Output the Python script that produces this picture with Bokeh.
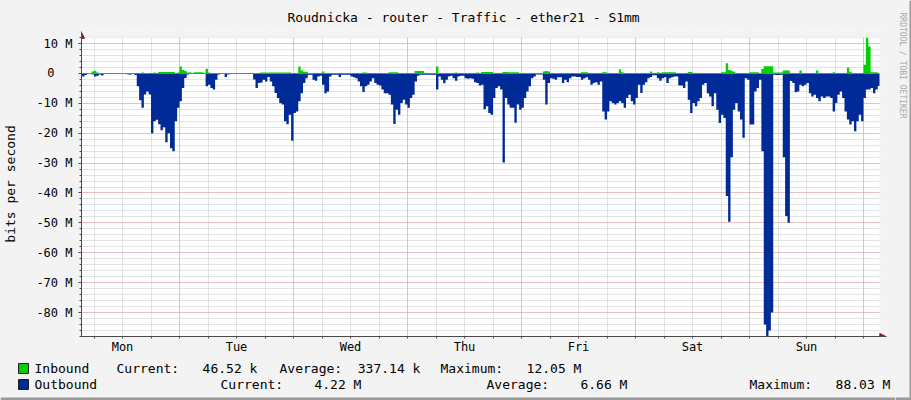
import numpy as np
from bokeh.plotting import figure
from bokeh.layouts import row, column
from bokeh.models import Range1d, FixedTicker, Grid, Title, Arrow, NormalHead, BoxAnnotation
from bokeh.core.properties import value
from bokeh.embed import file_html
from bokeh.resources import INLINE

FONT = "DejaVu Sans Mono"

# ---------------- data (30-minute samples, hours since Monday 00:00) ----------------
sample_start_h = 3.0
sample_step_h = 0.5

# outbound traffic, Mbit/s (drawn below zero)
outbound_M = [
    0.3, 1.0, 0.5, 0.2, 0.2, 0.3, 1.0, 0.8, 0.3, 0.7, 0.2, 0.2,
    0.2, 0.2, 0.2, 0.2, 0.2, 0.2, 0.2, 0.2, 0.3, 0.3, 0.2, 0.5,
    4.3, 9.0, 11.5, 7.0, 6.0, 7.0, 20.0, 16.0, 15.5, 17.0, 19.0, 18.0,
    23.0, 20.0, 25.0, 26.0, 16.0, 11.5, 9.3, 4.9, 1.5, 0.3, 0.2, 0.2,
    0.2, 0.2, 0.2, 0.2, 0.2, 4.3, 3.8, 4.9, 5.4, 2.1, 0.3, 0.2,
    0.2, 1.2, 0.3, 0.2, 0.2, 0.2, 0.2, 0.2, 0.2, 0.2, 0.2, 0.2,
    0.2, 2.0, 4.9, 3.2, 3.0, 2.1, 2.7, 1.2, 2.7, 4.3, 6.5, 8.2,
    9.9, 10.4, 16.0, 17.0, 13.8, 22.5, 13.2, 12.7, 9.3, 6.6, 3.2, 1.6,
    0.4, 0.4, 2.1, 2.4, 1.0, 0.8, 3.8, 6.6, 6.0, 1.0, 0.4, 0.4,
    0.4, 1.2, 0.4, 0.4, 0.4, 0.4, 1.0, 1.3, 1.6, 2.7, 4.3, 6.2,
    4.3, 3.8, 2.7, 1.6, 3.2, 3.8, 4.0, 5.4, 6.6, 6.6, 7.1, 10.4,
    16.9, 12.1, 13.8, 9.9, 8.8, 10.4, 11.5, 8.2, 7.1, 2.7, 0.8, 0.4,
    0.4, 0.4, 0.4, 0.4, 0.4, 0.4, 5.4, 1.0, 2.1, 3.3, 2.1, 1.0,
    0.8, 1.6, 2.4, 1.0, 0.8, 0.8, 1.6, 1.8, 1.6, 1.8, 2.9, 3.2,
    4.0, 3.8, 12.0, 11.0, 13.2, 13.8, 8.2, 4.9, 4.3, 5.4, 29.8, 8.2,
    10.4, 11.5, 11.5, 16.5, 10.4, 12.1, 11.5, 8.2, 6.0, 4.3, 1.6, 1.0,
    0.3, 0.3, 0.3, 2.1, 10.4, 3.2, 1.6, 1.8, 2.1, 1.3, 1.3, 3.2,
    2.1, 2.9, 1.6, 1.0, 1.0, 1.2, 1.2, 2.1, 1.6, 1.3, 2.1, 3.8,
    3.2, 2.9, 3.8, 2.7, 12.7, 15.4, 12.7, 9.3, 9.9, 10.4, 9.9, 9.3,
    9.9, 11.5, 8.2, 7.1, 9.3, 10.4, 8.2, 3.8, 6.5, 3.8, 2.9, 1.6,
    1.2, 0.6, 0.6, 1.6, 2.4, 1.6, 1.3, 3.2, 1.6, 1.3, 1.0, 1.0,
    4.0, 4.0, 4.9, 2.7, 8.8, 13.2, 9.9, 11.0, 9.3, 8.2, 3.8, 3.2,
    6.6, 7.7, 11.0, 6.6, 12.1, 16.6, 13.8, 14.9, 41.0, 49.6, 28.0, 12.1,
    9.9, 12.7, 15.4, 21.5, 1.6, 2.1, 17.1, 17.1, 6.0, 4.9, 2.1, 26.0,
    84.0, 88.03, 86.0, 80.0, 0.4, 0.5, 0.5, 0.4, 28.0, 47.7, 50.0, 2.5,
    3.2, 6.3, 6.0, 3.8, 4.3, 3.8, 3.2, 6.6, 7.7, 7.1, 8.2, 9.3,
    7.7, 8.2, 7.7, 7.7, 8.2, 12.7, 9.9, 7.1, 6.0, 8.2, 12.7, 15.4,
    17.1, 16.0, 19.3, 16.0, 13.8, 16.0, 8.2, 5.4, 5.4, 4.9, 6.6, 5.4,
    4.22,
]

# inbound traffic, Mbit/s (drawn above zero)
inbound_M = [
    0.1, 0.1, 0.1, 0.1, 0.2, 0.7, 0.9, 0.3, 0.1, 0.1, 0.1, 0.1,
    0.1, 0.1, 0.1, 0.1, 0.1, 0.1, 0.1, 0.1, 0.1, 0.1, 0.1, 0.1,
    0.1, 0.2, 0.3, 0.1, 0.1, 0.1, 0.2, 0.3, 0.2, 0.5, 0.5, 0.5,
    0.5, 0.5, 0.5, 0.5, 0.2, 0.3, 2.3, 1.2, 0.9, 0.3, 0.4, 0.1,
    0.4, 0.4, 0.4, 0.4, 0.1, 1.6, 0.3, 0.1, 0.1, 0.1, 0.1, 0.1,
    0.1, 0.1, 0.1, 0.1, 0.1, 0.1, 0.1, 0.1, 0.1, 0.1, 0.1, 0.1,
    0.1, 0.1, 0.1, 0.1, 0.3, 0.3, 0.3, 0.3, 0.3, 0.3, 0.3, 0.3,
    0.3, 0.3, 0.3, 0.3, 0.3, 0.1, 0.1, 0.1, 2.3, 1.0, 0.6, 0.6,
    0.1, 0.1, 0.1, 0.1, 0.1, 0.1, 0.7, 0.2, 0.1, 0.1, 0.1, 0.1,
    0.1, 0.1, 0.1, 0.1, 0.1, 0.1, 0.1, 0.1, 0.1, 0.1, 0.1, 0.3,
    0.3, 0.1, 0.1, 0.1, 0.1, 0.1, 0.1, 0.1, 0.1, 0.1, 0.4, 0.4,
    0.4, 0.4, 0.1, 0.1, 0.1, 0.1, 0.1, 0.1, 0.1, 0.8, 0.8, 0.8,
    0.8, 0.1, 0.1, 0.1, 0.1, 0.1, 2.3, 0.2, 0.1, 0.1, 0.1, 0.1,
    0.1, 0.1, 0.3, 0.1, 0.1, 0.1, 0.1, 0.1, 0.1, 0.1, 0.1, 0.3,
    0.1, 0.5, 0.5, 0.5, 0.5, 0.5, 0.1, 0.1, 0.1, 0.1, 0.5, 0.5,
    0.4, 0.4, 0.4, 0.4, 0.4, 0.1, 0.1, 0.1, 0.1, 0.1, 0.1, 0.1,
    0.1, 0.1, 0.1, 0.7, 0.8, 0.7, 0.1, 0.1, 0.1, 0.1, 0.1, 0.1,
    0.1, 0.1, 0.1, 0.1, 0.1, 0.1, 0.1, 0.4, 0.4, 0.4, 0.1, 0.1,
    0.1, 0.1, 0.1, 0.1, 0.4, 0.4, 0.1, 0.1, 0.1, 0.1, 0.1, 1.3,
    0.4, 0.1, 0.1, 0.1, 0.1, 0.1, 0.1, 0.1, 0.1, 0.1, 0.1, 0.1,
    0.7, 0.1, 0.1, 0.4, 0.1, 0.4, 0.4, 0.4, 0.4, 0.4, 0.4, 0.1,
    0.1, 0.1, 0.1, 0.1, 0.5, 0.5, 0.1, 0.1, 0.1, 0.1, 0.1, 0.1,
    0.1, 0.1, 0.1, 0.1, 0.1, 0.1, 0.4, 0.4, 3.4, 1.2, 0.9, 0.6,
    0.1, 0.1, 0.1, 0.1, 0.1, 0.1, 0.4, 0.4, 0.4, 0.4, 0.1, 1.5,
    2.4, 2.4, 2.4, 2.4, 0.3, 0.3, 0.3, 0.3, 1.0, 1.0, 1.0, 0.1,
    0.1, 0.1, 0.1, 1.0, 0.1, 0.1, 0.1, 0.1, 0.1, 0.1, 1.0, 0.1,
    0.1, 0.1, 0.1, 0.1, 0.1, 0.4, 0.1, 0.1, 0.1, 0.1, 0.1, 2.0,
    0.6, 0.1, 0.1, 0.1, 0.1, 0.1, 2.9, 12.05, 9.0, 0.4, 0.4, 0.4,
    0.0465,
]

day_names = ["Mon", "Tue", "Wed", "Thu", "Fri", "Sat", "Sun"]
y_tick_values = [10, 0, -10, -20, -30, -40, -50, -60, -70, -80]
y_tick_labels = ["10 M", "0\u2800\u2800", "-10 M", "-20 M", "-30 M", "-40 M",
                 "-50 M", "-60 M", "-70 M", "-80 M"]

title_text = "Roudnicka - router - Traffic - ether21 - S1mm"
watermark_text = "RRDTOOL / TOBI OETIKER"
series_names = ["Inbound", "Outbound"]
series_colors = ["#00CF00", "#002A97"]
current_num = ["46.52", "4.22"]
current_unit = ["k", "M"]
average_num = ["337.14", "6.66"]
average_unit = ["k", "M"]
maximum_num = ["12.05", "88.03"]
maximum_unit = ["M", "M"]

# visible window of the graph
view_start_h = 3.368
view_hours = 168.0
y_min, y_max = -88.03, 12.05

# ---------------- build series ----------------
n = min(len(outbound_M), len(inbound_M))
t = sample_start_h + sample_step_h * np.arange(n + 1)
out_vals = -np.array(outbound_M[:n] + [outbound_M[n - 1]])
in_vals = np.array(inbound_M[:n] + [inbound_M[n - 1]])

X0, X1 = view_start_h, view_start_h + view_hours
Y0, Y1 = y_min, y_max

# graph area 798 x 300 px; the frame is a little larger so that the axis
# arrows (which stick out of the graph area) can be drawn
GW, GH = 798.0, 300.0
EXT_R, EXT_T = 7.0, 6.0
X1v = X1 + EXT_R * (X1 - X0) / GW
Y1v = Y1 + EXT_T * (Y1 - Y0) / GH

BG = "#F3F3F3"
AXIS_C = "#4A4A4A"
ARROW_C = "#7F1F1F"
SHADE_DARK = "#9A9A9A"


def no_frame_align(fig):
    try:
        fig.frame_align = False
    except Exception:
        pass


# ---------------- main chart ----------------
MAIN_W, MAIN_H = 895, 356
p = figure(width=MAIN_W, height=MAIN_H, output_backend="svg", toolbar_location=None,
           x_range=Range1d(X0, X1v), y_range=Range1d(Y0, Y1v),
           min_border_left=81, min_border_right=int(MAIN_W - 81 - GW - EXT_R),
           min_border_top=int(36 - EXT_T), min_border_bottom=20,
           background_fill_color="white", border_fill_color=BG, outline_line_color=None)
no_frame_align(p)

p.xgrid.visible = False
p.ygrid.visible = False
six_hours = [6.0 * i for i in range(0, 29)]
midnights = [24.0 * i for i in range(0, 8)]
y_minor = list(range(-88, 13, 2))
grid_minor_c = "#C8C8C8"
grid_major_c = "#EE9A9A"
p.add_layout(Grid(dimension=0, ticker=FixedTicker(ticks=six_hours),
                  grid_line_color=grid_minor_c, grid_line_dash="1 1"))
p.add_layout(Grid(dimension=1, ticker=FixedTicker(ticks=y_minor),
                  grid_line_color=grid_minor_c, grid_line_dash="1 1"))
p.add_layout(Grid(dimension=0, ticker=FixedTicker(ticks=midnights),
                  grid_line_color=grid_major_c, grid_line_dash="1 1"))
p.add_layout(Grid(dimension=1, ticker=FixedTicker(ticks=y_tick_values),
                  grid_line_color=grid_major_c, grid_line_dash="1 1"))

p.varea_step(x=t, y1=0, y2=out_vals, step_mode="after",
             fill_color=series_colors[1], fill_alpha=1.0)
p.varea_step(x=t, y1=0, y2=in_vals, step_mode="after",
             fill_color=series_colors[0], fill_alpha=1.0)

# background-coloured strips outside the graph area (arrow room)
p.add_layout(BoxAnnotation(bottom=Y1, fill_color=BG, fill_alpha=1.0,
                           line_alpha=0.0, line_color=None))
p.add_layout(BoxAnnotation(left=X1, fill_color=BG, fill_alpha=1.0,
                           line_alpha=0.0, line_color=None))

noon_ticks = [12.0 + 24.0 * i for i in range(len(day_names))]
xa = p.xaxis[0]
xa.ticker = FixedTicker(ticks=noon_ticks, minor_ticks=six_hours)
xa.major_label_overrides = {tk: d for tk, d in zip(noon_ticks, day_names)}
xa.major_tick_out = 0
xa.major_tick_in = 0
xa.minor_tick_out = 2
xa.minor_tick_in = 0
xa.major_label_standoff = 1
xa.axis_line_color = AXIS_C
xa.minor_tick_line_color = AXIS_C
xa.major_label_text_font = FONT
xa.major_label_text_font_size = "12px"
xa.major_label_text_color = "black"

ya = p.yaxis[0]
ya.ticker = FixedTicker(ticks=y_tick_values, minor_ticks=y_minor)
ya.major_label_overrides = {v: s for v, s in zip(y_tick_values, y_tick_labels)}
ya.major_tick_out = 3
ya.major_tick_in = 0
ya.minor_tick_out = 2
ya.minor_tick_in = 0
ya.major_label_standoff = 6
ya.axis_line_color = AXIS_C
ya.major_tick_line_color = AXIS_C
ya.minor_tick_line_color = AXIS_C
ya.major_label_text_font = FONT
ya.major_label_text_font_size = "12px"
ya.major_label_text_color = "black"
ya.axis_label = "bits per second"
ya.axis_label_text_font = FONT
ya.axis_label_text_font_size = "13px"
ya.axis_label_text_font_style = "normal"
ya.axis_label_text_color = "black"
ya.axis_label_standoff = 15

# axis arrows
p.add_layout(Arrow(end=NormalHead(size=6, fill_color=ARROW_C, line_color=ARROW_C),
                   x_start=X0, y_start=Y1 - 0.5, x_end=X0, y_end=Y1 + (Y1v - Y1) * 0.85,
                   line_color=AXIS_C, line_width=1))
p.add_layout(Arrow(end=NormalHead(size=6, fill_color=ARROW_C, line_color=ARROW_C),
                   x_start=X1 - 0.2, y_start=Y0, x_end=X1 + (X1v - X1) * 0.9, y_end=Y0,
                   line_color=AXIS_C, line_width=1))

p.title = Title(text=title_text, text_font=FONT, text_font_size="13px",
                text_font_style="normal", text_color="black",
                align="left", offset=206, standoff=14)

# ---------------- legend strip (below the chart) ----------------
LEG_W, LEG_H = MAIN_W, 400 - MAIN_H
leg = figure(width=LEG_W, height=LEG_H, output_backend="svg", toolbar_location=None,
             x_range=Range1d(0, LEG_W), y_range=Range1d(LEG_H, 0),
             min_border=0, min_border_left=0, min_border_right=0,
             min_border_top=0, min_border_bottom=0,
             x_axis_location=None, y_axis_location=None,
             background_fill_color=BG, border_fill_color=BG, outline_line_color=None)
no_frame_align(leg)
leg.xgrid.visible = False
leg.ygrid.visible = False


def nb(s):
    return s.replace(" ", "\u00a0")


row_y = [12, 28]
box_x = 23
name_x = 34
cur_x = [116, 220]
avg_x = [279, 486]
max_x = [440, 749]
leg.rect(x=[box_x, box_x], y=row_y, width=10, height=10,
         fill_color=series_colors, line_color="#1E1E1E", line_width=1)
txt, tx, ty = [], [], []
for i in range(2):
    for s, xpos in [(series_names[i], name_x),
                    ("Current:%8s %s" % (current_num[i], current_unit[i]), cur_x[i]),
                    ("Average:%8s %s" % (average_num[i], average_unit[i]), avg_x[i]),
                    ("Maximum:%8s %s" % (maximum_num[i], maximum_unit[i]), max_x[i])]:
        txt.append(nb(s))
        tx.append(xpos)
        ty.append(row_y[i])
leg.text(x=tx, y=ty, text=txt, text_font=value(FONT), text_font_size="13px",
         text_align="left", text_baseline="middle", text_color="black")
leg.quad(left=[0], right=[LEG_W], top=[LEG_H - 3], bottom=[LEG_H],
         fill_color=SHADE_DARK, line_color=None)

# ---------------- right strip with the watermark ----------------
SIDE_W = 911 - MAIN_W
side = figure(width=SIDE_W, height=400, output_backend="svg", toolbar_location=None,
              x_range=Range1d(0, SIDE_W), y_range=Range1d(400, 0),
              min_border=0, min_border_left=0, min_border_right=0,
              min_border_top=0, min_border_bottom=0,
              x_axis_location=None, y_axis_location=None,
              background_fill_color=BG, border_fill_color=BG, outline_line_color=None)
no_frame_align(side)
side.xgrid.visible = False
side.ygrid.visible = False
side.text(x=[7], y=[12], text=[watermark_text], angle=-np.pi / 2,
          text_font=value(FONT), text_font_size="8px", text_color="#A8A8A8",
          text_align="left", text_baseline="middle")
side.quad(left=[SIDE_W - 2], right=[SIDE_W], top=[0], bottom=[400],
          fill_color=SHADE_DARK, line_color=None)
side.quad(left=[0], right=[SIDE_W], top=[397], bottom=[400],
          fill_color=SHADE_DARK, line_color=None)

layout = row(column(p, leg, spacing=0), side, spacing=0)

html = file_html(layout, INLINE, title="Roudnicka - router - Traffic - ether21")
html = html.replace("</head>",
                    "<style>html,body{background:#F3F3F3;}</style></head>", 1)
open("out.html", "w").write(html)
